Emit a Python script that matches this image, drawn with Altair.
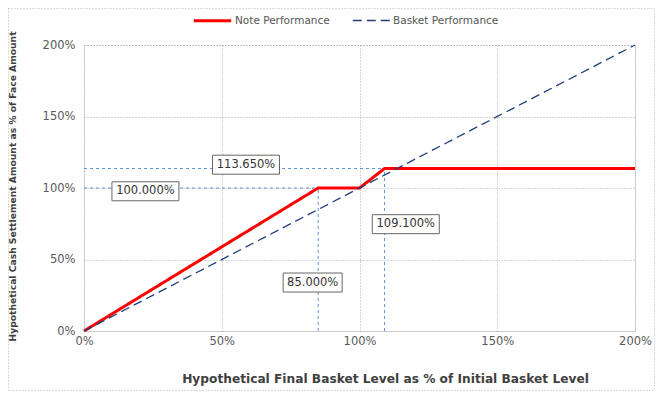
import altair as alt
import pandas as pd

# ---- data ----
note_x = [0, 85, 100, 109.1, 200]
note_y = [0, 100, 100, 113.65, 113.65]
basket_x = [0, 200]
basket_y = [0, 200]

ref_h_y = [100, 113.65]
ref_h_x2 = [85, 109.1]
ref_v_x = [85, 109.1]
ref_v_y2 = [100, 113.65]

ann_text = ["113.650%", "100.000%", "109.100%", "85.000%"]
ann_x = [58.8, 22.3, 116.8, 83.0]
ann_y = [116.3, 97.7, 74.7, 33.9]
ann_w = [67, 67, 67, 59]

series = ["Note Performance", "Basket Performance"]

lines = pd.DataFrame(
    [{"series": series[0], "x": a, "y": b, "o": i} for i, (a, b) in enumerate(zip(note_x, note_y))]
    + [{"series": series[1], "x": a, "y": b, "o": i} for i, (a, b) in enumerate(zip(basket_x, basket_y))]
)
href = pd.DataFrame({"y": ref_h_y, "x": [0, 0], "x2": ref_h_x2})
vref = pd.DataFrame({"x": ref_v_x, "y": [0, 0], "y2": ref_v_y2})
ann = pd.DataFrame({"t": ann_text, "x": ann_x, "y": ann_y, "w": ann_w})

W, H = 551, 286
font = "DejaVu Sans"

xs = alt.Scale(domain=[0, 200], nice=False)
ys = alt.Scale(domain=[0, 200], nice=False)

xaxis = alt.Axis(
    values=[0, 50, 100, 150, 200], labelExpr="datum.value + '%'",
    title="Hypothetical Final Basket Level as % of Initial Basket Level",
    titleX=301, titleY=47, titleBaseline="middle", titleAnchor="middle",
    titleFontSize=12.2, titleFontWeight="bold", titleColor="#404040",
    labelFontSize=11.5, labelColor="#595959", labelPadding=4,
    ticks=False, domain=False, grid=True, gridDash=[1, 2], gridColor="#a8a8a8",
    labelFlush=False,
)
yaxis = alt.Axis(
    values=[0, 50, 100, 150, 200], labelExpr="datum.value + '%'",
    title="Hypothetical Cash Settlement Amount as % of Face Amount",
    titleX=-72, titleY=141, titleBaseline="middle", titleAnchor="middle",
    titleFontSize=9.2, titleFontWeight="bold", titleColor="#404040",
    labelFontSize=11.5, labelColor="#595959", labelPadding=9,
    ticks=False, domain=False, grid=True, gridDash=[1, 2], gridColor="#a8a8a8",
)

border = alt.Chart(pd.DataFrame({"a": [0]})).mark_rect(
    fill=None, stroke="#b8b8b8", strokeDash=[1, 2], strokeWidth=1
).encode(
    x=alt.value(-75.5), x2=alt.value(W + 19.5), y=alt.value(-36.5), y2=alt.value(H + 59.5)
)

h_rules = alt.Chart(href).mark_rule(color="#5b93dc", strokeDash=[3, 3], strokeWidth=1).encode(
    x=alt.X("x:Q", scale=xs, axis=xaxis), x2="x2:Q", y=alt.Y("y:Q", scale=ys, axis=yaxis)
)
v_rules = alt.Chart(vref).mark_rule(color="#5b93dc", strokeDash=[3, 3], strokeWidth=1).encode(
    x=alt.X("x:Q", scale=xs), y=alt.Y("y:Q", scale=ys), y2="y2:Q"
)

leg = alt.Legend(title=None, orient="none", legendX=108, legendY=-45,
                 direction="horizontal", symbolType="stroke",
                 symbolSize=1400, labelFontSize=10.5, labelColor="#555555",
                 labelFont=font, columnPadding=20, labelOffset=2)

line_chart = alt.Chart(lines).mark_line(clip=False).encode(
    x=alt.X("x:Q", scale=xs),
    y=alt.Y("y:Q", scale=ys),
    order="o:Q",
    color=alt.Color("series:N", scale=alt.Scale(domain=series, range=["#ff0000", "#1f3d7a"]), legend=leg),
    strokeDash=alt.StrokeDash("series:N", scale=alt.Scale(domain=series, range=[[1, 0], [9, 5]]), legend=leg),
    strokeWidth=alt.StrokeWidth("series:N", scale=alt.Scale(domain=series, range=[3, 1.3]), legend=leg),
)

wide = ann[ann["w"] == 67]
narrow = ann[ann["w"] == 59]
boxes_w = alt.Chart(wide).mark_rect(fill="white", stroke="#666666", strokeWidth=1, width=67, height=19).encode(
    x=alt.X("x:Q", scale=xs), y=alt.Y("y:Q", scale=ys)
)
boxes_n = alt.Chart(narrow).mark_rect(fill="white", stroke="#666666", strokeWidth=1, width=59, height=19).encode(
    x=alt.X("x:Q", scale=xs), y=alt.Y("y:Q", scale=ys)
)
texts = alt.Chart(ann).mark_text(fontSize=11.5, font=font, color="#333333", baseline="middle").encode(
    x=alt.X("x:Q", scale=xs), y=alt.Y("y:Q", scale=ys), text="t:N"
)

chart = alt.layer(border, h_rules, v_rules, line_chart, boxes_w, boxes_n, texts).properties(
    width=W, height=H,
    autosize=alt.AutoSizeParams(type="none"),
    padding={"left": 76, "top": 37, "right": 20, "bottom": 60},
).configure(font=font).configure_view(stroke="#a8a8a8", strokeDash=[1, 2]).configure_axis(
    labelFont=font, titleFont=font
)

chart.save("out.html", embed_options={"renderer": "svg", "actions": False})
